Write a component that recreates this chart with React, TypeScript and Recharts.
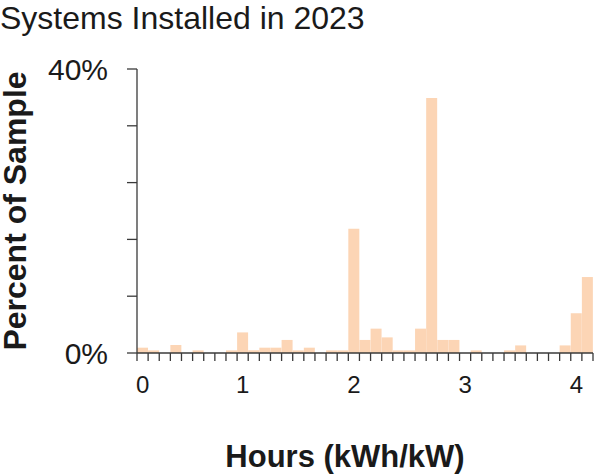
import { BarChart, Bar, XAxis, YAxis, Label } from 'recharts'

// share of sample per 0.1 h bin
const percentOfSample = [
  0.75, 0.37, 0, 1.13, 0, 0.37, 0, 0, 0.37, 2.9,
  0.37, 0.75, 0.75, 1.84, 0.37, 0.75, 0, 0.37, 0.37, 17.5,
  1.84, 3.43, 2.2, 0.37, 0.37, 3.43, 35.9, 1.84, 1.84, 0,
  0.37, 0, 0, 0.37, 1.07, 0, 0, 0, 1.07, 5.6,
  10.7,
]
const tickLabels = ['0', '1', '2', '3', '4']
const tickBins = [0, 9, 19, 29, 39]
const yTicks = [0, 8, 16, 24, 32, 40]

const data = percentOfSample.map((pct, i) => ({ bin: i + 0.5, pct }))
const binEdges = percentOfSample.map((_, i) => i).concat(percentOfSample.length)
const xTicks = binEdges.concat(tickBins.map((b) => b + 0.5))

const FONT = '"Liberation Sans", Arial, sans-serif'
const AXIS = '#3a3a3a'
const TEXT = '#1a1a1a'

function XTick({ x, y, payload }: any) {
  const v = payload.value as number
  if (Number.isInteger(v)) {
    return <line x1={x} y1={y} x2={x} y2={y + 8} stroke={AXIS} strokeWidth={1.3} />
  }
  const idx = tickBins.indexOf(v - 0.5)
  return (
    <text x={x} y={y + 40} textAnchor="middle" fontSize={24} fill={TEXT} fontFamily={FONT}>
      {tickLabels[idx]}
    </text>
  )
}

function YTitle({ viewBox }: any) {
  const cy = viewBox.y + viewBox.height / 2
  return (
    <text
      x={26}
      y={cy}
      transform={`rotate(-90, 26, ${cy})`}
      textAnchor="middle"
      fontSize={32}
      fontWeight="bold"
      fill={TEXT}
      fontFamily={FONT}
    >
      Percent of Sample
    </text>
  )
}

function XTitle({ viewBox }: any) {
  const cx = viewBox.x + viewBox.width / 2 - 20
  return (
    <text
      x={cx}
      y={viewBox.y + viewBox.height - 8}
      textAnchor="middle"
      fontSize={31}
      fontWeight="bold"
      fill={TEXT}
      fontFamily={FONT}
    >
      Hours (kWh/kW)
    </text>
  )
}

export default function App() {
  return (
    <div style={{ position: 'absolute', left: 0, top: 0, width: 596, height: 475, background: '#fff' }}>
      <div
        style={{
          position: 'absolute',
          left: 0,
          top: 2,
          fontFamily: FONT,
          fontSize: 32,
          lineHeight: '32px',
          color: TEXT,
          whiteSpace: 'nowrap',
        }}
      >
        Systems Installed in 2023
      </div>
      <BarChart
        width={596}
        height={475}
        data={data}
        margin={{ top: 69, right: 3, bottom: 0, left: 0 }}
        barCategoryGap={0}
        barGap={0}
      >
        <XAxis
          dataKey="bin"
          type="number"
          domain={[0, percentOfSample.length]}
          ticks={xTicks}
          interval={0}
          height={122}
          tickSize={0}
          tickMargin={0}
          tickLine={false}
          axisLine={{ stroke: AXIS, strokeWidth: 1.3 }}
          tick={<XTick />}
        >
          <Label content={<XTitle />} />
        </XAxis>
        <YAxis
          type="number"
          domain={[0, 40]}
          ticks={yTicks}
          interval={0}
          width={137}
          tickSize={10}
          tickMargin={19}
          axisLine={{ stroke: AXIS, strokeWidth: 1.3 }}
          tickLine={{ stroke: AXIS, strokeWidth: 1.3 }}
          tick={{ fontSize: 30, fill: TEXT, fontFamily: FONT }}
          tickFormatter={(v: number) => (v === 0 || v === 40 ? `${v}%` : '')}
        >
          <Label content={<YTitle />} />
        </YAxis>
        <Bar dataKey="pct" fill="#FCD5B5" isAnimationActive={false} />
      </BarChart>
    </div>
  )
}
